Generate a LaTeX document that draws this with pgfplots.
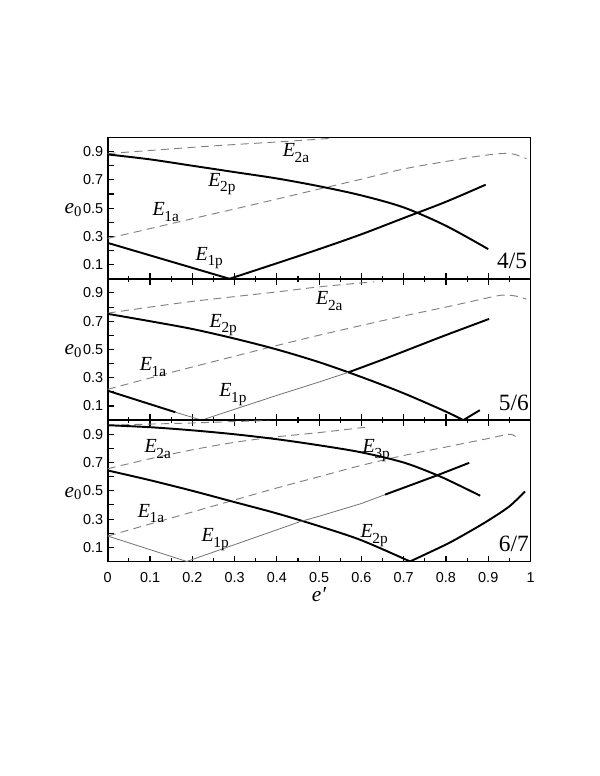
\documentclass[border=0pt]{standalone}
\usepackage{fontspec}
\setmainfont{Liberation Serif}
\newfontfamily\tickfont{Liberation Sans}
\usepackage{pgfplots}
\pgfplotsset{compat=1.18}
\newcommand\E[1]{\textit{E}\kern-0.3pt\raisebox{-4.2pt}{\fontsize{11.5}{11.5}\selectfont #1}}
\newcommand\lfont{\fontsize{15}{16}\selectfont}
\newcommand\rfont{\fontsize{17.5}{18}\selectfont}
\newcommand\efont{\fontsize{16}{17}\selectfont}
\pgfplotsset{
  panel/.style={
    scale only axis, width=317.1pt, height=106pt,
    xmin=0, xmax=1, ymin=0, ymax=1,
    axis line style={line width=1.2pt},
    tick style={black, line width=0.8pt},
    tick align=inside,
    major tick length=4.4pt, minor tick length=2.3pt,
    xtick={0,0.1,0.2,0.3,0.4,0.5,0.6,0.7,0.8,0.9,1},
    minor xtick={0.05,0.15,0.25,0.35,0.45,0.55,0.65,0.75,0.85,0.95},
    ytick={0.1,0.2,0.3,0.4,0.5,0.6,0.7,0.8,0.9,1.0},
    yticklabels={0.1,,0.3,,0.5,,0.7,,0.9,},
    ytick pos=left,
    clip mode=individual,
    /pgf/number format/assume math mode=true,
    tick label style={font=\fontsize{10.8}{12}\tickfont},
    xticklabel style={yshift=-4.5pt},
    anchor=south west,
  },
  thk/.style={black, line width=1.45pt},
  thn/.style={black!55, line width=0.6pt},
  dsh/.style={black!50, line width=0.7pt, dash pattern=on 6pt off 4pt},
}
\begin{document}
\begin{tikzpicture}
\path[use as bounding box] (-80.8pt,-160.9pt) rectangle (368.5pt,421.1pt);
% ---------------- panel 4/5
\begin{axis}[panel, at={(0,212pt)}, xtick pos=bottom, xticklabels={}]
\addplot[dsh, smooth] coordinates {(0,0.886) (0.1,0.908) (0.2,0.93) (0.3,0.95) (0.4,0.968) (0.5,0.988) (0.53,0.995)};
\addplot[dsh, smooth] coordinates {(0,0.286) (0.1,0.355) (0.2,0.425) (0.3,0.494) (0.4,0.564) (0.5,0.635) (0.6,0.705) (0.692,0.772) (0.75,0.805) (0.81,0.835) (0.87,0.865) (0.93,0.886) (0.96,0.882) (0.99,0.85)};
\addplot[thk, smooth] coordinates {(0,0.88) (0.1,0.845) (0.2,0.80) (0.3,0.755) (0.4,0.71) (0.5,0.655) (0.6,0.59) (0.7,0.505) (0.8,0.375) (0.9,0.21)};
\addplot[thk] coordinates {(0,0.254) (0.288,0)};
\addplot[thk, smooth] coordinates {(0.288,0) (0.4,0.11) (0.5,0.21) (0.6,0.315) (0.7,0.43) (0.8,0.545) (0.894,0.666)};
\node[anchor=base west, font=\lfont] at (axis cs:0.403,0.864) {\E{2a}};
\node[anchor=base west, font=\lfont] at (axis cs:0.227,0.654) {\E{2p}};
\node[anchor=base west, font=\lfont] at (axis cs:0.095,0.447) {\E{1a}};
\node[anchor=base west, font=\lfont] at (axis cs:0.197,0.131) {\E{1p}};
\node[anchor=base west, font=\rfont] at (axis cs:0.91,0.071) {4/5};
\node[anchor=base west, font=\efont] at (axis description cs:-0.113,0.459) {\textit{e}\raisebox{-2pt}{\fontsize{11}{11}\selectfont 0}};
\end{axis}
% ---------------- panel 5/6
\begin{axis}[panel, at={(0,106pt)}, xtick pos=both, xticklabels={}]
\addplot[dsh, smooth] coordinates {(0,0.757) (0.1,0.80) (0.2,0.84) (0.3,0.874) (0.4,0.907) (0.5,0.943) (0.6,0.971) (0.63,0.978)};
\addplot[dsh, smooth] coordinates {(0,0.218) (0.1,0.298) (0.2,0.376) (0.3,0.452) (0.4,0.528) (0.5,0.601) (0.6,0.67) (0.7,0.737) (0.8,0.80) (0.9,0.866) (0.935,0.885) (0.965,0.878) (0.99,0.856)};
\addplot[thk, smooth] coordinates {(0,0.752) (0.1,0.70) (0.2,0.645) (0.3,0.577) (0.4,0.50) (0.5,0.41) (0.6,0.305) (0.7,0.19) (0.8,0.06) (0.841,0)};
\addplot[thk] coordinates {(0.841,0) (0.88,0.07)};
\addplot[thk] coordinates {(0,0.208) (0.16,0.056)};
\addplot[thn] coordinates {(0.16,0.056) (0.222,0) (0.3,0.077) (0.4,0.175) (0.5,0.27) (0.569,0.338)};
\addplot[thk, smooth] coordinates {(0.569,0.338) (0.65,0.428) (0.731,0.522) (0.8,0.602) (0.902,0.716)};
\node[anchor=base west, font=\lfont] at (axis cs:0.482,0.816) {\E{2a}};
\node[anchor=base west, font=\lfont] at (axis cs:0.23,0.657) {\E{2p}};
\node[anchor=base west, font=\lfont] at (axis cs:0.065,0.35) {\E{1a}};
\node[anchor=base west, font=\lfont] at (axis cs:0.253,0.165) {\E{1p}};
\node[anchor=base west, font=\rfont] at (axis cs:0.914,0.071) {5/6};
\node[anchor=base west, font=\efont] at (axis description cs:-0.113,0.461) {\textit{e}\raisebox{-2pt}{\fontsize{11}{11}\selectfont 0}};
\end{axis}
% ---------------- panel 6/7
\begin{axis}[panel, at={(0,0pt)}, xtick pos=both,
  xticklabels={0,0.1,0.2,0.3,0.4,0.5,0.6,0.7,0.8,0.9,1}]
\addplot[dsh, smooth] coordinates {(0,0.964) (0.1,0.972) (0.2,0.98) (0.3,0.99) (0.38,0.997)};
\addplot[dsh, smooth] coordinates {(0,0.656) (0.1,0.727) (0.2,0.79) (0.3,0.843) (0.4,0.882) (0.5,0.912) (0.61,0.95)};
\addplot[dsh, smooth] coordinates {(0,0.18) (0.1,0.265) (0.2,0.35) (0.3,0.435) (0.4,0.52) (0.5,0.60) (0.6,0.68) (0.7,0.75) (0.8,0.81) (0.9,0.87) (0.951,0.90) (0.971,0.87)};
\addplot[thk, smooth] coordinates {(0,0.964) (0.1,0.95) (0.2,0.928) (0.3,0.90) (0.4,0.865) (0.5,0.822) (0.6,0.772) (0.7,0.70) (0.778,0.612) (0.83,0.54) (0.881,0.465)};
\addplot[thk, smooth] coordinates {(0,0.644) (0.1,0.575) (0.2,0.50) (0.3,0.42) (0.4,0.34) (0.5,0.25) (0.6,0.15) (0.715,0)};
\addplot[thk, smooth] coordinates {(0.715,0) (0.8,0.12) (0.849,0.20) (0.9,0.29) (0.95,0.39) (0.987,0.496)};
\addplot[thn] coordinates {(0,0.18) (0.187,0) (0.3,0.119) (0.4,0.224) (0.455,0.282) (0.5,0.32) (0.6,0.41) (0.656,0.473)};
\addplot[thk] coordinates {(0.656,0.473) (0.778,0.608) (0.855,0.698)};
\node[anchor=base west, font=\lfont] at (axis cs:0.076,0.77) {\E{2a}};
\node[anchor=base west, font=\lfont] at (axis cs:0.06,0.314) {\E{1a}};
\node[anchor=base west, font=\lfont] at (axis cs:0.211,0.14) {\E{1p}};
\node[anchor=base west, font=\lfont] at (axis cs:0.592,0.77) {\E{3p}};
\node[anchor=base west, font=\lfont] at (axis cs:0.587,0.168) {\E{2p}};
\node[anchor=base west, font=\rfont] at (axis cs:0.914,0.068) {6/7};
\node[anchor=base west, font=\efont] at (axis description cs:-0.113,0.456) {\textit{e}\raisebox{-2pt}{\fontsize{11}{11}\selectfont 0}};
\node[anchor=base, font=\efont] at (axis description cs:0.5,-0.28) {\textit{e′}};
\end{axis}
\end{tikzpicture}
\end{document}
